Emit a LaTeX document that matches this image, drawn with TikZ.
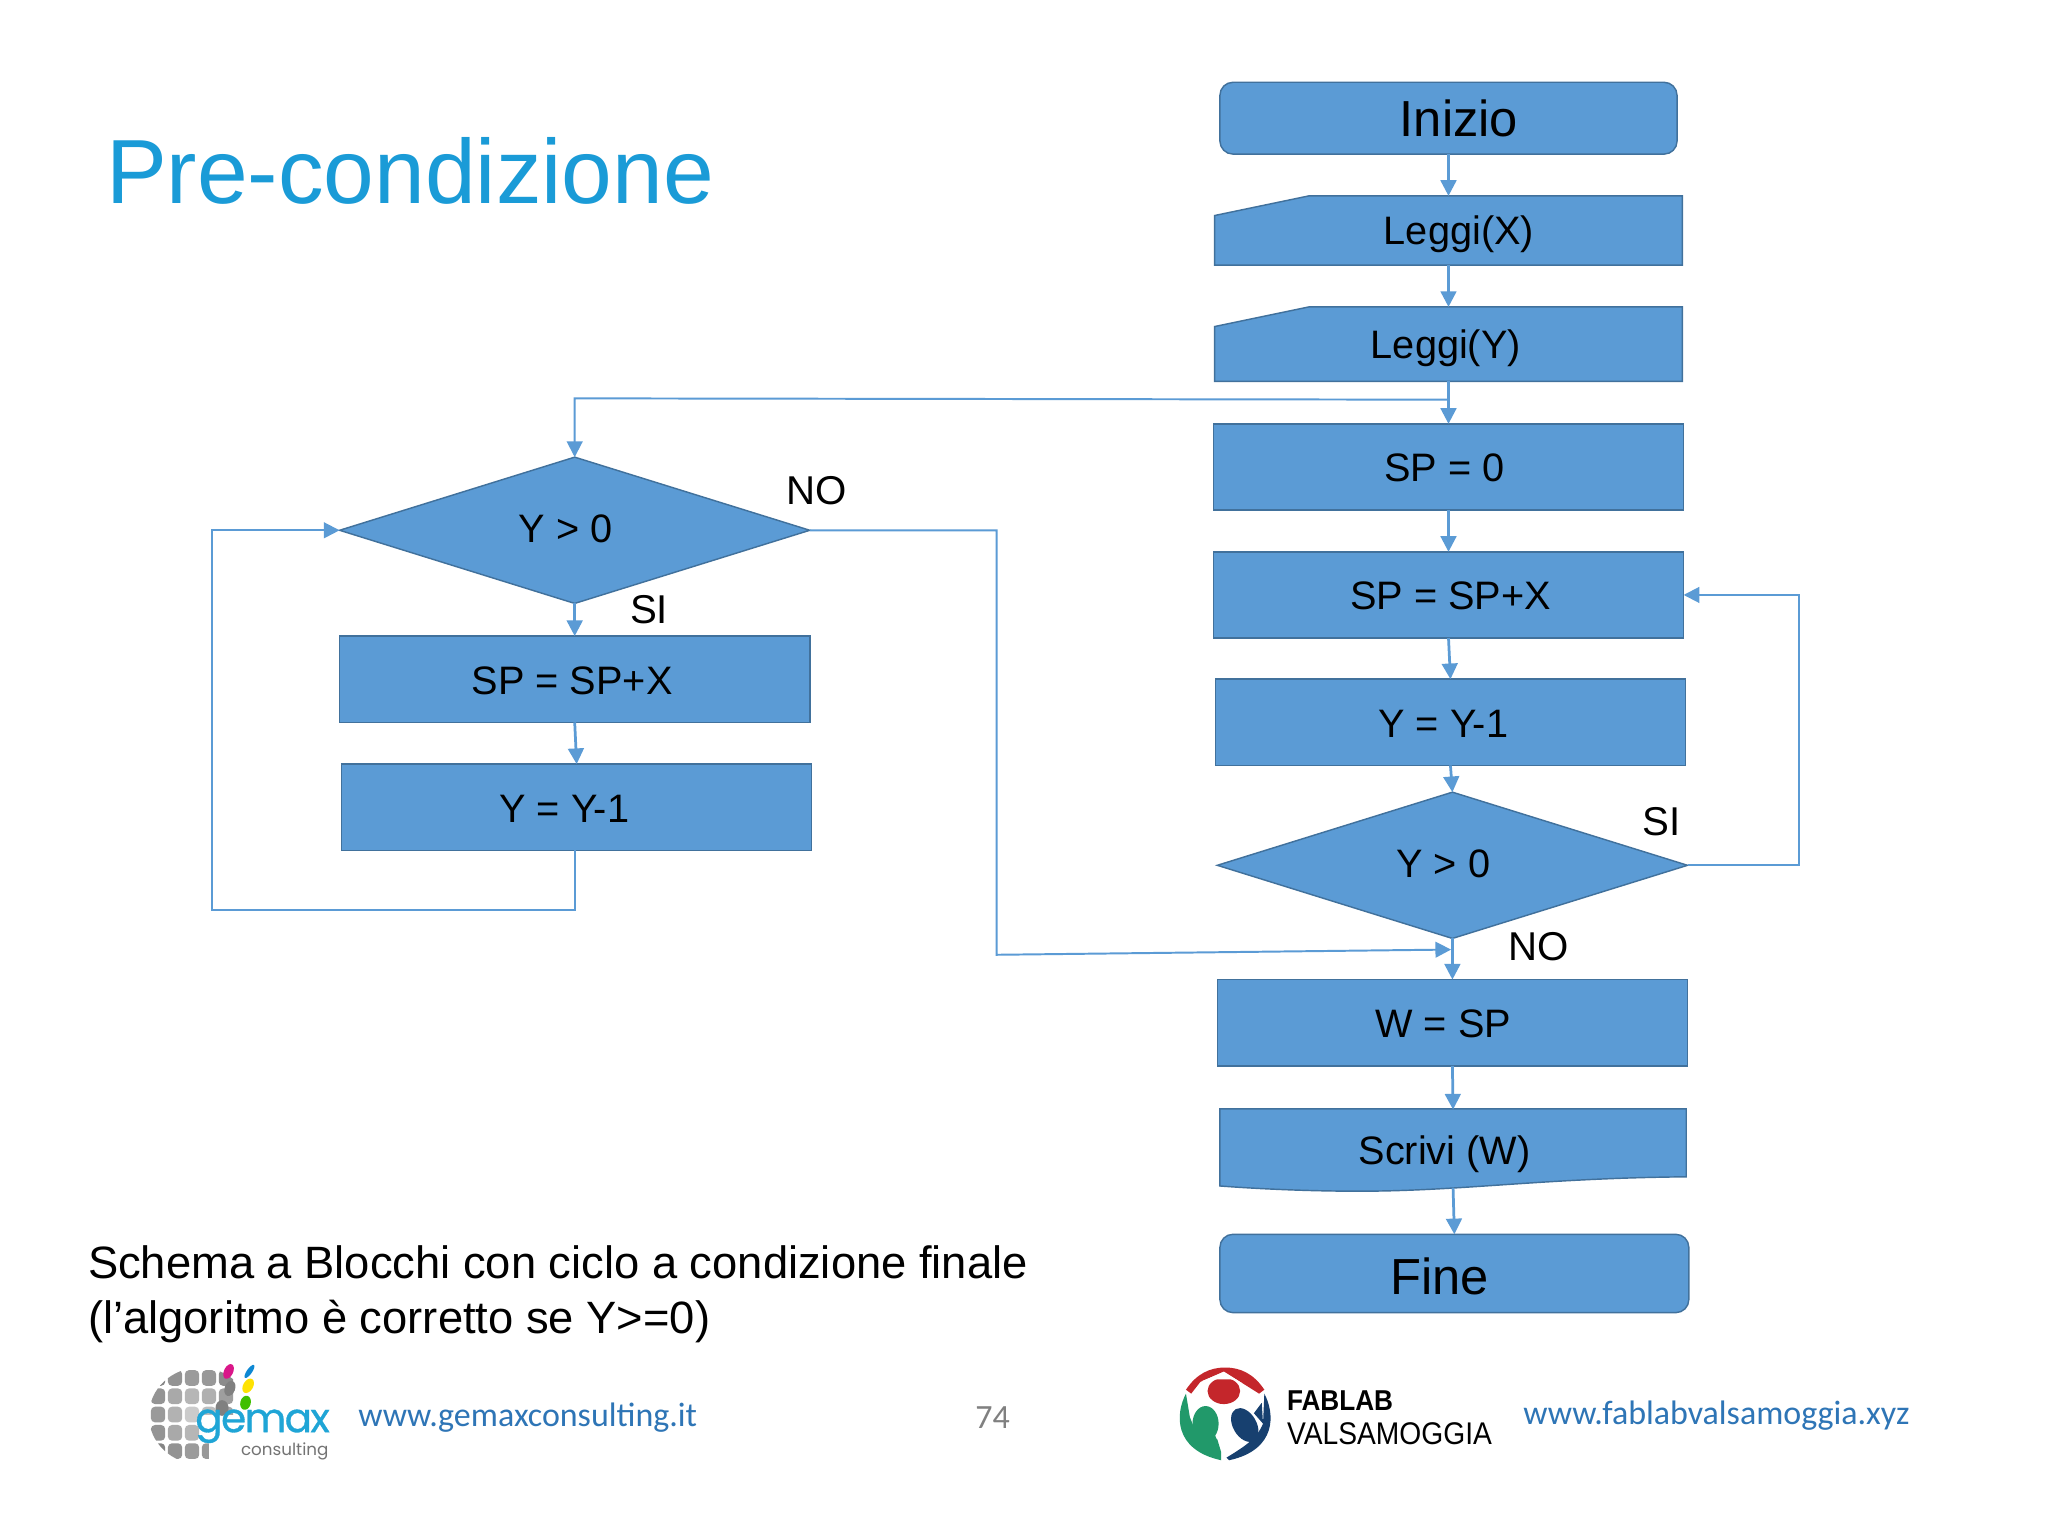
\documentclass[tikz,border=0pt]{standalone}
\usepackage{fontspec}
\setmainfont{Liberation Sans}
\newfontfamily\carl{Carlito}
\newfontfamily\popp{Poppins}
\usetikzlibrary{arrows.meta,shapes.geometric}
\definecolor{fillb}{HTML}{5B9BD5}
\definecolor{edgeb}{HTML}{41719C}
\definecolor{titleb}{HTML}{1A9BD7}
\definecolor{linkb}{HTML}{2E75B6}
\definecolor{flred}{HTML}{C4262B}
\definecolor{flgreen}{HTML}{21996A}
\definecolor{flnavy}{HTML}{17406F}
\definecolor{gemaxb}{HTML}{1FA5D6}
\tikzset{
  shapebase/.style={fill=fillb,draw=edgeb,line width=0.55pt,inner sep=0pt,outer sep=0pt},
  flat/.style={shapebase,rectangle},
  round box/.style={shapebase,rectangle,rounded corners=5pt},
  ghost/.style={rectangle,inner sep=0pt,outer sep=0pt},
  deci/.style={shapebase,diamond,aspect=3.2},
  tag/.style={font=\fontsize{15.2}{18}\selectfont,text=black,inner sep=0pt,yshift=-0.5pt},
  bigtag/.style={font=\fontsize{19.4}{22}\selectfont,text=black,inner sep=0pt},
  note/.style={font=\fontsize{15.4}{18}\selectfont,text=black,inner sep=0pt},
  conn/.style={draw=fillb,line width=1.05pt,-{Triangle[length=6pt,width=6pt]}},
  long conn/.style={draw=fillb,line width=0.75pt,-{Triangle[length=6pt,width=6pt]}},
  link/.style={font=\carl\fontsize{13}{15}\selectfont,text=linkb,inner sep=0pt},
  gblob/.style={rounded corners=1.6pt},
}
\begin{document}
\begin{tikzpicture}[x=0.5pt,y=-0.5pt]
\useasboundingbox (0,0) rectangle (1568,1176);
\fill[white] (0,0) rectangle (1568,1176);

% title and caption
\node[font=\fontsize{34.9}{40}\selectfont,text=titleb,inner sep=0pt] (title) at (314,131) {Pre-condizione};
\node[font=\fontsize{17.35}{21}\selectfont,text=black,inner sep=0pt,anchor=west,align=left] (cap) at (67,991) {Schema a Blocchi con ciclo a condizione finale\\(l’algoritmo è corretto se Y>=0)};

% special outlines drawn below their nodes
\path[shapebase] (930,165) -- (1002,150) -- (1288,150) -- (1288,203) -- (930,203) -- cycle;
\path[shapebase] (930,250) -- (1002,235) -- (1288,235) -- (1288,292) -- (930,292) -- cycle;
\path[shapebase] (934,849) -- (1291,849) -- (1291,901) .. controls (1180,902) and (1120,912) .. (1040,912) .. controls (1000,912) and (960,910) .. (934,908) -- cycle;

% right column
\node[round box,minimum width=175pt,minimum height=27.5pt,label={[bigtag,xshift=4pt]center:Inizio}] (start) at (1109,90.5) {};
\node[ghost,minimum width=179pt,minimum height=26.5pt,label={[tag,xshift=4pt,yshift=-1pt]center:Leggi(X)}] (lx) at (1109,176.5) {};
\node[ghost,minimum width=179pt,minimum height=28.5pt,label={[tag,xshift=-1pt,yshift=-1pt]center:Leggi(Y)}] (ly) at (1109,263.5) {};
\node[flat,minimum width=180pt,minimum height=33pt,label={[tag,xshift=-1.5pt]center:SP = 0}] (spz) at (1109,357.5) {};
\node[flat,minimum width=180pt,minimum height=33pt,label={[tag,xshift=0.75pt]center:SP = SP+X}] (spa) at (1109,455.5) {};
\node[flat,minimum width=180pt,minimum height=33pt,label={[tag,xshift=-2.75pt]center:Y = Y-1}] (ya) at (1110.5,553) {};
\node[deci,minimum width=180pt,minimum height=56pt,label={[tag,xshift=-3.5pt,yshift=1pt]center:Y > 0}] (dr) at (1112,662.5) {};
\node[flat,minimum width=180pt,minimum height=33pt,label={[tag,xshift=-3.5pt]center:W = SP}] (w) at (1112,783) {};
\node[ghost,minimum width=178.5pt,minimum height=30pt,label={[tag,xshift=-3.25pt,yshift=-1.5pt]center:Scrivi (W)}] (sc) at (1112.5,879.5) {};
\node[round box,minimum width=179.5pt,minimum height=30pt,label={[bigtag,xshift=-5.75pt,yshift=-1pt]center:Fine}] (fine) at (1113.5,975) {};

% left column
\node[deci,minimum width=180pt,minimum height=56pt,label={[tag,xshift=-3.5pt,yshift=1pt]center:Y > 0}] (dl) at (440,406) {};
\node[flat,minimum width=180pt,minimum height=33pt,label={[tag,xshift=-1pt]center:SP = SP+X}] (spb) at (440,520) {};
\node[flat,minimum width=180pt,minimum height=33pt,label={[tag,xshift=-4.75pt]center:Y = Y-1}] (yb) at (441.5,618) {};

% bend points
\coordinate (jtop) at (1108,306);
\coordinate (ltop) at (440,305);
\coordinate (bl1) at (440,697);
\coordinate (bl2) at (162,697);
\coordinate (bl3) at (162,406);
\coordinate (nr1) at (763,406);
\coordinate (nr2) at (763,731);
\coordinate (jbot) at (1111,727);
\coordinate (sr1) at (1377,662.5);
\coordinate (sr2) at (1377,455.5);

% connectors
\draw[conn] (start.south) -- (lx.north);
\draw[conn] (lx.south) -- (ly.north);
\draw[conn] (ly.south) -- (spz.north);
\draw[conn] (spz.south) -- (spa.north);
\draw[conn] (spa.south) -- (ya.north);
\draw[conn] (ya.south) -- (dr.north);
\draw[conn] (dr.south) -- (w.north);
\draw[conn] (w.south) -- (sc.north);
\draw[conn] (sc.south) -- (fine.north);
\draw[long conn] (jtop) -- (ltop) -- (dl.north);
\draw[conn] (dl.south) -- (spb.north);
\draw[conn] (spb.south) -- (yb.north);
\draw[long conn] (yb.south -| bl1) -- (bl1) -- (bl2) -- (bl3) -- (dl.west);
\draw[long conn] (dl.east) -- (nr1) -- (nr2) -- (jbot);
\draw[long conn] (dr.east) -- (sr1) -- (sr2) -- (spa.east);

% branch labels
\node[note] (no1) at (625,376) {NO};
\node[note] (si1) at (497,467) {SI};
\node[note] (si2) at (1272,629) {SI};
\node[note] (no2) at (1178,725) {NO};

% footer
\node[link,anchor=west] (urla) at (274,1085) {www.gemaxconsulting.it};
\node[link,anchor=west] (urlb) at (1166,1084) {www.fablabvalsamoggia.xyz};
\node[font=\carl\fontsize{13}{15}\selectfont,text=black!50,inner sep=0pt] (page) at (760,1085) {74};

% gemax logo: sphere of tiles
\begin{scope}
\clip (153,1084) ellipse (39 and 37);
\foreach \cx in {121,134,147,160,173}{
  \foreach \cy in {1055,1069,1083,1097,1111}{
    \pgfmathsetmacro{\dd}{veclen(\cx-150,\cy-1083)}
    \pgfmathsetmacro{\gv}{18+\dd*0.75}
    \fill[black!\gv,gblob] (\cx-5.5,\cy-6) rectangle (\cx+5.5,\cy+6);
  }
}
\end{scope}
\fill[white] (153,1083) rectangle (200,1104);
\fill[white] (160,1104) rectangle (200,1125);
% coloured leaves
\fill[magenta!90!black,rotate around={-25:(175,1050)}] (175,1050) ellipse (3.5 and 6);
\fill[cyan!70!blue,rotate around={-35:(191,1050)}] (191,1050) ellipse (2 and 6);
\fill[yellow!85!orange,rotate around={-30:(190,1061)}] (190,1061) ellipse (3.8 and 6);
\fill[black!50,rotate around={-20:(176,1063)}] (176,1063) ellipse (4 and 6);
\fill[green!50!olive,rotate around={-15:(188,1074)}] (188,1074) ellipse (4 and 5.5);
\fill[black!50] (170,1078) ellipse (5 and 6);
\node[font=\popp\fontsize{15.5}{18}\selectfont,text=gemaxb,inner sep=0pt,anchor=center] (gm) at (201,1092) {\addfontfeature{LetterSpace=-4,FakeBold=0.8}gemax};
\node[font=\popp\fontsize{6.4}{8}\selectfont,text=black!55,inner sep=0pt,anchor=center] (gc) at (218,1111) {consulting};

% fablab logo
\fill[flred] (908,1064) .. controls (916,1052) and (926,1047) .. (938,1047) .. controls (950,1047) and (960,1052) .. (968,1064) -- (964,1067) -- (937,1050) -- (919,1058) -- (912,1067) -- cycle;
\fill[flred] (937,1065) ellipse (12.5 and 10);
\fill[white] (920,1057.5) -- (937,1050.5) -- (951,1059) -- (944,1056) -- (930,1056) -- cycle;
\fill[flgreen] (908,1067) .. controls (900,1082) and (898,1110) .. (935,1118) -- (935,1112) -- (932,1102) -- (917,1100) -- (911,1085) -- cycle;
\fill[flgreen] (923,1090) ellipse (10 and 13.5);
\fill[flgreen] (917,1096) -- (929,1096) -- (932,1103) -- (920,1103) -- cycle;
\fill[flnavy] (968,1067) .. controls (976,1082) and (978,1110) .. (941,1118) -- (939,1116) .. controls (952,1108) and (962,1102) .. (967,1090) -- cycle;
\fill[flnavy,rotate around={30:(953,1091)}] (953,1091) ellipse (9 and 14);
\fill[flnavy] (960,1082) -- (966,1074) -- (967,1090) -- cycle;

\node[font=\bfseries\fontsize{11}{13}\selectfont,text=black,inner sep=0pt,anchor=west] (fa) at (985,1072) {\scalebox{0.91}[1]{FABLAB}};
\node[font=\fontsize{12}{14}\selectfont,text=black,inner sep=0pt,anchor=west] (fb) at (985,1098) {\scalebox{0.9}[1]{VALSAMOGGIA}};
\end{tikzpicture}
\end{document}
